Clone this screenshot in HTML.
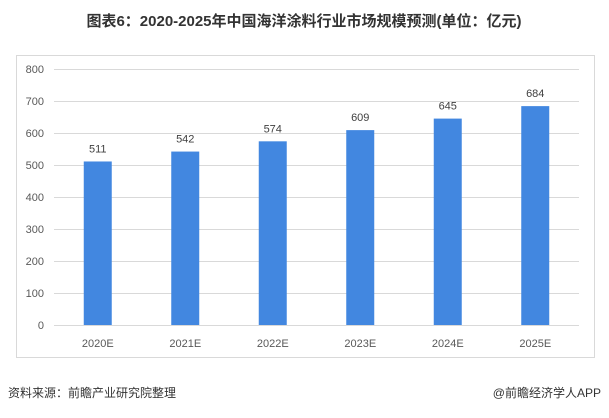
<!DOCTYPE html>
<html><head><meta charset="utf-8"><style>
body{margin:0;background:#fff;width:609px;height:413px;overflow:hidden;font-family:"Liberation Sans","Noto Sans CJK SC",sans-serif;}
</style></head><body>
<svg width="609" height="413" xmlns="http://www.w3.org/2000/svg">
<text x="304" y="26" text-anchor="middle" font-size="15" font-weight="bold" fill="#333" font-family="Liberation Sans, Noto Sans CJK SC, sans-serif">图表6：2020-2025年中国海洋涂料行业市场规模预测(单位：亿元)</text>
<rect x="16.5" y="55.5" width="578" height="302" fill="none" stroke="#d9d9d9"/>
<g id="grid"></g><g id="bars"></g>
<text x="8" y="397" font-size="12" fill="#333" font-family="Liberation Sans, Noto Sans CJK SC, sans-serif">资料来源：前瞻产业研究院整理</text>
<text x="601" y="397" text-anchor="end" font-size="12" fill="#333" font-family="Liberation Sans, Noto Sans CJK SC, sans-serif">@前瞻经济学人APP</text>
</svg>
<script>
const categories=["2020E","2021E","2022E","2023E","2024E","2025E"];
const values=[511,542,574,609,645,684];
const ticks=[0,100,200,300,400,500,600,700,800];
const NS="http://www.w3.org/2000/svg";
const x0=54,x1=579,yBase=325,yTop=69,maxV=800;
function y(v){return yBase-(v/maxV)*(yBase-yTop);}
const bw=(x1-x0)/categories.length;
function xc(i){return x0+bw*(i+0.5);}
function mk(tag,attrs,parent){const e=document.createElementNS(NS,tag);for(const k in attrs)e.setAttribute(k,attrs[k]);parent.appendChild(e);return e;}
const g=document.getElementById('grid'),b=document.getElementById('bars');
ticks.forEach(t=>{
 const l=mk('line',{x1:x0,x2:x1,y1:y(t)+0.5,y2:y(t)+0.5,stroke:'#d9d9d9'},g);
 
 
 const tx=mk('text',{x:44,y:y(t)+4,'text-anchor':'end','font-size':11,fill:'#595959'},g);
 tx.textContent=t;
 
 
});
categories.forEach((c,i)=>{
 const r=mk('rect',{x:xc(i)-14,y:y(values[i]),width:28,height:yBase-y(values[i]),fill:'#4287e0'},b);
 
 
 const v=mk('text',{x:xc(i),y:y(values[i])-9,'text-anchor':'middle','font-size':11,fill:'#404040'},b);
 v.textContent=values[i];
 
 
 const xl=mk('text',{x:xc(i),y:347,'text-anchor':'middle','font-size':11,fill:'#595959'},b);
 xl.textContent=c;
 
 
});
</script>
</body></html>
